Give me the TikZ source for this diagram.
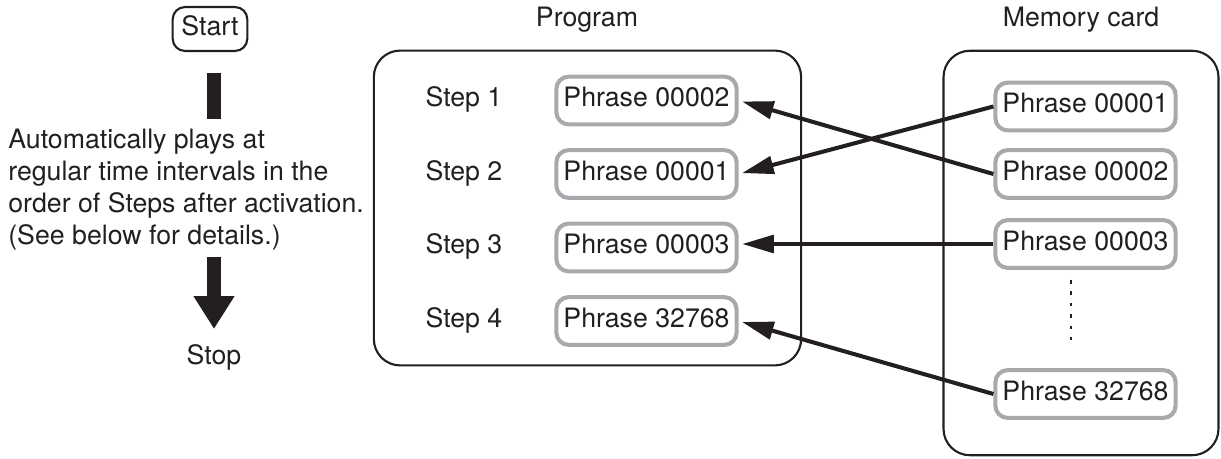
\documentclass[tikz,border=0pt]{standalone}
\usepackage{fontspec}
\setmainfont{TeX Gyre Heros}
\usetikzlibrary{arrows.meta,positioning}
\definecolor{ink}{RGB}{35,31,32}
\definecolor{framegrey}{RGB}{167,169,172}

\begin{document}
\begin{tikzpicture}[x=0.02cm, y=-0.02cm,
    every node/.style={font=\fontsize{15.2pt}{18.1pt}\selectfont, text=ink},
    phrase/.style={rectangle, draw=framegrey, line width=2.3pt, fill=white,
        minimum width=102.6pt, minimum height=27.2pt, rounded corners=7pt,
        inner sep=0pt, text height=0.73em, text depth=0pt},
    panel/.style={rectangle, draw=ink, line width=1.2pt, rounded corners=15pt,
        inner sep=0pt},
    startbox/.style={rectangle, draw=ink, line width=1.2pt, rounded corners=7pt,
        minimum width=42.5pt, minimum height=25pt, inner sep=0pt,
        text height=0.73em, text depth=0pt},
    steplbl/.style={inner sep=0pt, anchor=base},
    title/.style={inner sep=0pt, anchor=base},
    arr/.style={-{Triangle[length=18pt,width=10pt]}, line width=2.3pt, ink,
        shorten >=2pt},
    bar/.style={line width=7.9pt, ink},
    bigarr/.style={-{Triangle[length=18.7pt,width=22pt]}, line width=7.9pt, ink},
    dots/.style={ink, line width=0.6pt, dash pattern=on 2pt off 4.5pt}
]
    \useasboundingbox (0,0) rectangle (1221,459);

    % left column
    \node[startbox] (start) at (210,29) {Start};
    \node[inner sep=0pt, anchor=north west, align=left] (desc) at (8,129)
        {Automatically plays at\\regular time intervals in the\\order of Steps after activation.\\(See below for details.)};
    \node[title] (stop) at (214,364) {Stop};
    \coordinate (bartop) at (214,73);
    \coordinate (barbot) at (214,119);
    \coordinate (arrtop) at (214,257);
    \coordinate (arrtip) at (214,329);
    \draw[bar] (bartop) -- (barbot);
    \draw[bigarr] (arrtop) -- (arrtip);

    % panels
    \node[title] (progtitle) at (587,27) {Program};
    \node[title] (cardtitle) at (1081,27) {Memory card};
    \node[panel, minimum width=243.2pt, minimum height=179.2pt] (prog) at (587.5,208) {};
    \node[panel, minimum width=156.5pt, minimum height=230.2pt] (card) at (1081,253) {};

    % program steps
    \node[phrase] (p1) at (646.5,100.5) {Phrase 00002};
    \node[phrase] (p2) at (646.5,174) {Phrase 00001};
    \node[phrase] (p3) at (646.5,247.5) {Phrase 00003};
    \node[phrase] (p4) at (646.5,321) {Phrase 32768};
    \foreach \i in {1,...,4}
        \node[steplbl] (s\i) at (p\i.base -| 464,0) {Step \i};

    % memory card
    \node[phrase] (m1) at (1085.5,106.5) {Phrase 00001};
    \node[phrase] (m2) at (1085.5,174) {Phrase 00002};
    \node[phrase] (m3) at (1085.5,244) {Phrase 00003};
    \node[phrase] (m4) at (1085.5,394) {Phrase 32768};
    \coordinate (dtop) at (1071,280);
    \coordinate (dbot) at (1071,340);
    \draw[dots] (dtop) -- (dbot);

    % assignments
    \draw[arr] (m1.west) -- (p2.east);
    \draw[arr] (m2.west) -- (p1.east);
    \draw[arr] (m3.west) -- (m3.west -| p3.east);
    \draw[arr] (m4.west) -- (p4.east);
\end{tikzpicture}
\end{document}
